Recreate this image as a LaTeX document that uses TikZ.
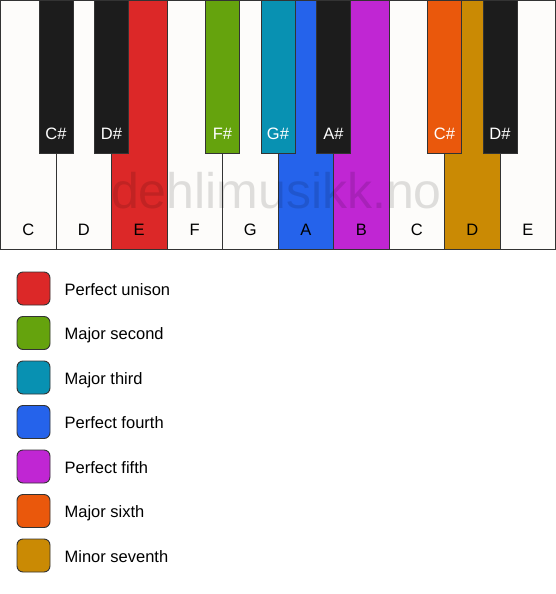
\documentclass[tikz,border=0pt]{standalone}
\usepackage{fontspec}
\setmainfont{Liberation Sans}
\definecolor{cRed}{HTML}{DC2828}
\definecolor{cGreen}{HTML}{65A30D}
\definecolor{cTeal}{HTML}{0891B2}
\definecolor{cBlue}{HTML}{2563EB}
\definecolor{cPurple}{HTML}{C026D3}
\definecolor{cOrange}{HTML}{EA580C}
\definecolor{cGold}{HTML}{CA8A04}
\definecolor{cBlack}{HTML}{1C1C1C}
\definecolor{cWhite}{HTML}{FDFCFA}
\definecolor{cEdge}{HTML}{333333}
\tikzset{
  whitekey/.style={draw=cEdge, line width=0.9pt, fill=cWhite, rectangle, anchor=north west,
    minimum width=55.5pt, minimum height=249pt, inner sep=0pt, outer sep=0pt},
  blackkey/.style={draw=cEdge, line width=0.9pt, fill=cBlack, rectangle, anchor=north,
    minimum width=34pt, minimum height=153pt, inner sep=0pt, outer sep=0pt},
  wlabel/.style={font=\fontsize{16.5}{19}\selectfont, text=black, inner sep=0pt, anchor=base},
  blabel/.style={font=\fontsize{16.5}{19}\selectfont, text=white, inner sep=0pt, anchor=base},
  swatch/.style={draw=cEdge, line width=0.9pt, rounded corners=6pt, minimum width=33pt,
    minimum height=33pt, inner sep=0pt},
  legtext/.style={font=\fontsize{16.5}{19}\selectfont, anchor=base west, inner sep=0pt},
}
\begin{document}
\begin{tikzpicture}[x=1pt,y=-1pt]
\useasboundingbox[fill=white] (0,0) rectangle (556,594);
% white keys
\foreach \i/\n/\c in {0/C/cWhite,1/D/cWhite,2/E/cRed,3/F/cWhite,4/G/cWhite,5/A/cBlue,6/B/cPurple,7/C/cWhite,8/D/cGold,9/E/cWhite}{
  \node[whitekey, fill=\c] (w\i) at (0.5+\i*55.5,0.5) {};
  \node[wlabel] (wl\i) at ([yshift=14.5pt]w\i.south) {\n};
}
% watermark
\node[font=\fontsize{50}{60}\selectfont, text=black, text opacity=0.12, anchor=base, inner sep=0pt] (wm) at (276.5,208) {dehlimusikk.no};
% black keys
\foreach \i/\x/\n/\c in {1/56/C\#/cBlack,2/111.5/D\#/cBlack,4/222.5/F\#/cGreen,5/278/G\#/cTeal,6/333.5/A\#/cBlack,8/444.5/C\#/cOrange,9/500/D\#/cBlack}{
  \node[blackkey, fill=\c] (b\i) at (\x,0.5) {};
  \node[blabel] (bl\i) at ([yshift=14.5pt]b\i.south) {\n};
}
% legend
\foreach \k/\c/\t in {0/cRed/Perfect unison,1/cGreen/Major second,2/cTeal/Major third,3/cBlue/Perfect fourth,4/cPurple/Perfect fifth,5/cOrange/Major sixth,6/cGold/Minor seventh}{
  \node[swatch, fill=\c] (s\k) at (33.5,288.5+\k*44.5) {};
  \node[legtext] (t\k) at ([xshift=14pt,yshift=-6.8pt]s\k.east) {\t};
}
\end{tikzpicture}
\end{document}
